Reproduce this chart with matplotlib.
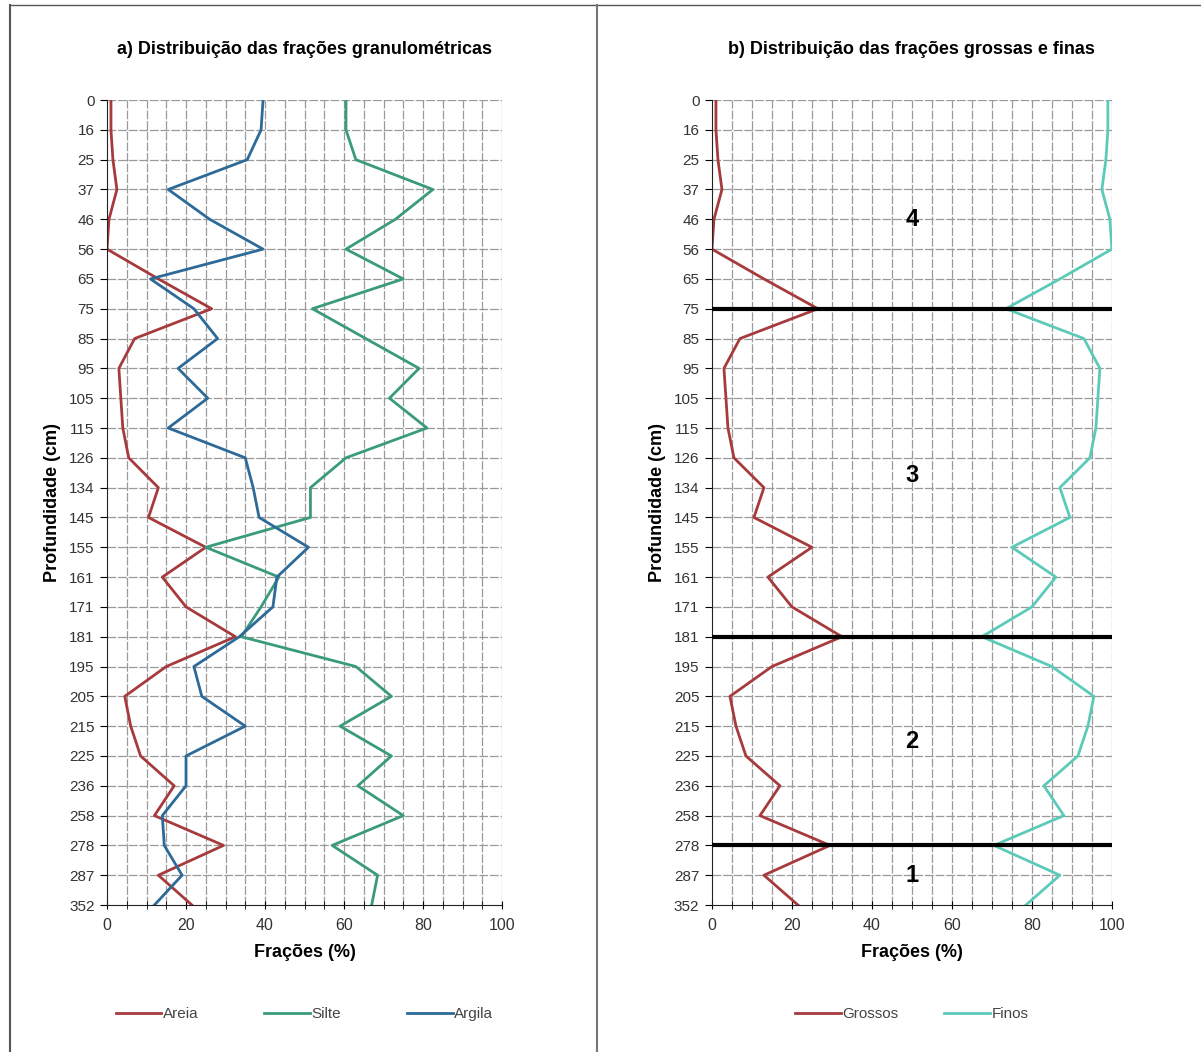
import matplotlib.pyplot as plt
import numpy as np
from matplotlib.lines import Line2D

plt.rcParams['font.family'] = ['Liberation Sans', 'DejaVu Sans']

# profundidades (categorias do eixo y)
profundidades = ['0', '16', '25', '37', '46', '56', '65', '75', '85', '95',
                 '105', '115', '126', '134', '145', '155', '161', '171', '181', '195',
                 '205', '215', '225', '236', '258', '278', '287', '352']

# frações granulométricas (%)
areia = [1, 1, 1.5, 2.5, 0.5, 0, 13, 26.5, 7, 3,
         3.5, 4, 5.5, 13, 10.5, 25, 14, 20, 32.5, 15,
         4.5, 6, 8.5, 17, 12, 29.5, 13, 21.5]
silte = [60.5, 60.5, 63, 82.5, 73, 60.5, 75, 52, 65.5, 79,
         71.5, 81, 60.5, 51.5, 51.5, 25, 43.5, 39, 34, 63,
         72, 59, 72, 63.5, 75, 57, 68.5, 67]
argila = [39.5, 39, 35.5, 15.5, 26, 39.5, 11, 22, 28, 18,
          25.5, 15.5, 35, 37, 38.5, 51, 43, 42, 33.5, 22,
          24, 35, 20, 20, 14, 14.5, 19, 12]

# frações grossas e finas (%)
grossos = [1, 1, 1.5, 2.5, 0.5, 0, 13, 26.5, 7, 3,
           3.5, 4, 5.5, 13, 10.5, 25, 14, 20, 32.5, 15,
           4.5, 6, 8.5, 17, 12, 29.5, 13, 21.5]
finos = [99, 99, 98.5, 97.5, 99.5, 100, 87, 73.5, 93, 97,
         96.5, 96, 94.5, 87, 89.5, 75, 86, 80, 67.5, 85,
         95.5, 94, 91.5, 83, 88, 70.5, 87, 78.5]

# limites das camadas e rótulos
limites = ['75', '181', '278']
camadas = ['4', '3', '2', '1']
pos_camadas = [4, 12.6, 21.5, 26]

COR_AREIA = '#a63a3c'
COR_SILTE = '#3a9a7c'
COR_ARGILA = '#2d6a98'
COR_FINOS = '#5ccab8'


def formatar_eixo(ax, titulo):
    y = np.arange(len(profundidades))
    ax.set_xlim(0, 100)
    ax.set_ylim(len(profundidades) - 1, 0)
    ax.set_yticks(y)
    ax.set_yticklabels(profundidades, fontsize=11, color='#333333')
    ax.set_xticks(np.arange(0, 101, 20))
    ax.set_xticks(np.arange(0, 101, 5), minor=True)
    ax.tick_params(axis='x', which='both', direction='inout', length=6, labelsize=11.5,
                   labelcolor='#333333', pad=6)
    ax.tick_params(axis='y', direction='out', length=5, pad=4)
    for v in np.arange(5, 101, 5):
        ax.axvline(v, color='#9a9a9a', lw=0.9, ls=(0, (7, 1.5)), zorder=0)
    for v in y[:-1]:
        ax.axhline(v, color='#9a9a9a', lw=0.9, ls=(0, (7, 1.5)), zorder=0)
    for s in ['top', 'right']:
        ax.spines[s].set_visible(False)
    ax.spines['left'].set_color('#222222')
    ax.spines['bottom'].set_color('#222222')
    ax.set_xlabel('Frações (%)', fontsize=13, fontweight='bold', labelpad=8)
    ax.set_ylabel('Profundidade (cm)', fontsize=13, fontweight='bold', labelpad=6)
    ax.set_title(titulo, fontsize=13, fontweight='bold', pad=33)


fig = plt.figure(figsize=(12.01, 10.52), dpi=100)

# bordas da figura
fig.add_artist(Line2D([0.008, 0.008], [0, 0.995], transform=fig.transFigure, color='#555555', lw=1.5))
fig.add_artist(Line2D([0.008, 1], [0.995, 0.995], transform=fig.transFigure, color='#555555', lw=1))
fig.add_artist(Line2D([0.497, 0.497], [0, 0.995], transform=fig.transFigure, color='#777777', lw=1.5))

y = np.arange(len(profundidades))

# a) Distribuição das frações granulométricas
ax1 = fig.add_axes([0.0891, 0.1397, 0.3289, 0.7652])
ax1.plot(areia, y, color=COR_AREIA, lw=2, label='Areia')
ax1.plot(silte, y, color=COR_SILTE, lw=2, label='Silte')
ax1.plot(argila, y, color=COR_ARGILA, lw=2, label='Argila')
formatar_eixo(ax1, 'a) Distribuição das frações granulométricas')
leg1 = ax1.legend(loc='upper center', bbox_to_anchor=(0.5, -0.11), ncol=3, frameon=False,
                  fontsize=11, handlelength=3, handletextpad=0.1, columnspacing=4.3)

# b) Distribuição das frações grossas e finas
ax2 = fig.add_axes([0.5928, 0.1397, 0.333, 0.7652])
ax2.plot(grossos, y, color=COR_AREIA, lw=2, label='Grossos')
ax2.plot(finos, y, color=COR_FINOS, lw=2, label='Finos')
formatar_eixo(ax2, 'b) Distribuição das frações grossas e finas')
for lim in limites:
    ax2.axhline(profundidades.index(lim), xmin=0, xmax=1, color='black', lw=3, zorder=3)
for txt, p in zip(camadas, pos_camadas):
    ax2.text(50, p, txt, fontsize=17, fontweight='bold', ha='center', va='center')
leg2 = ax2.legend(loc='upper center', bbox_to_anchor=(0.5, -0.11), ncol=2, frameon=False,
                  fontsize=11, handlelength=3, handletextpad=0.1, columnspacing=3)

for leg in (leg1, leg2):
    for t in leg.get_texts():
        t.set_color('#444444')

fig.savefig('out.png', dpi=100)
